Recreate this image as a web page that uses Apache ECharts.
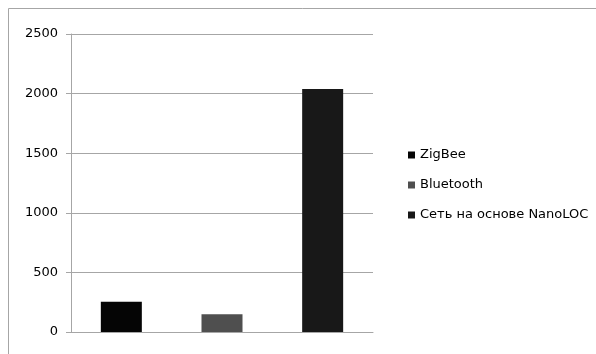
<!DOCTYPE html>
<html><head><meta charset="utf-8">
<script src="https://cdn.jsdelivr.net/npm/echarts@6/dist/echarts.min.js"></script>
<style>html,body{margin:0;padding:0;background:#fff}#c{width:596px;height:354px}</style>
</head><body><div id="c"></div>
<script>
const categories = ['ZigBee', 'Bluetooth', 'Сеть на основе NanoLOC'];
const values = [254, 148, 2038];
const colors = ['#050505', '#4f4f4f', '#181818'];
const yTicks = [0, 500, 1000, 1500, 2000, 2500];

const chart = echarts.init(document.getElementById('c'), null, {renderer: 'canvas'});
const font = '"DejaVu Sans", sans-serif';
const series = categories.map((name, i) => ({
  name: name,
  type: 'bar',
  barWidth: 41,
  barGap: '-100%',
  itemStyle: {color: colors[i]},
  data: categories.map((c, j) => j === i ? values[i] : '-'),
  animation: false
}));
chart.setOption({
  animation: false,
  graphic: [{type: 'polyline', shape: {points: [[8.5, 400], [8.5, 8.5], [700, 8.5]]},
    style: {fill: null, stroke: '#a6a6a6', lineWidth: 1}, silent: true, z: -1}],
  grid: {left: 71, top: 34, right: 223, bottom: 22, containLabel: false},
  legend: {
    orient: 'vertical', left: 403, top: 143,
    itemWidth: 7, itemHeight: 7, itemGap: 16, icon: 'rect',
    textStyle: {fontFamily: font, fontSize: 13, color: '#000', lineHeight: 14},
    data: categories
  },
  xAxis: {
    type: 'category', data: categories,
    axisLine: {lineStyle: {color: '#a6a6a6'}},
    axisTick: {show: false}, axisLabel: {show: false}
  },
  yAxis: {
    type: 'value', min: yTicks[0], max: yTicks[yTicks.length - 1], interval: 500,
    axisLine: {show: true, lineStyle: {color: '#a6a6a6'}},
    axisTick: {show: true, length: 5, lineStyle: {color: '#a6a6a6'}},
    splitLine: {lineStyle: {color: '#a6a6a6'}},
    axisLabel: {fontFamily: font, fontSize: 13, color: '#000', margin: 13, formatter: v => String(v)}
  },
  series: series
});
</script></body></html>
